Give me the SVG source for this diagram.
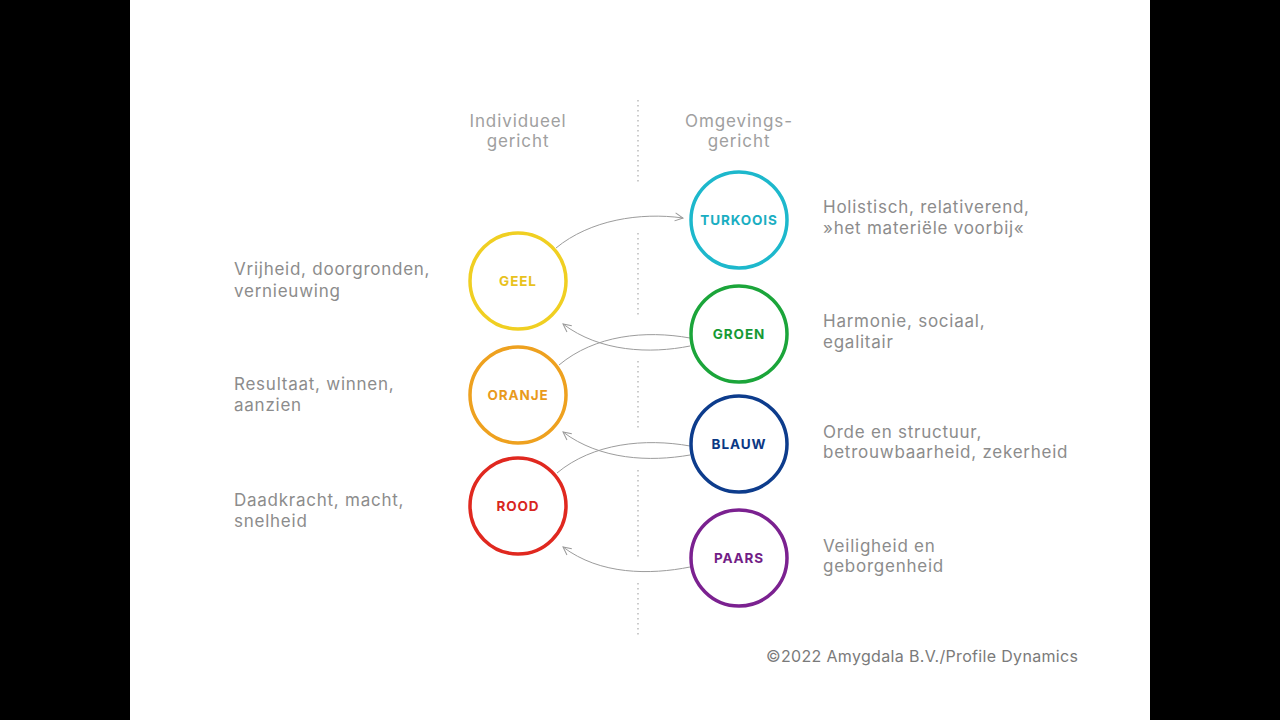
<svg xmlns="http://www.w3.org/2000/svg" width="1280" height="720" viewBox="0 0 1280 720">
<defs>
<marker id="ah" viewBox="0 0 10 10" refX="9" refY="5" markerWidth="10" markerHeight="10" markerUnits="userSpaceOnUse" orient="auto">
<path d="M1,1 L9,5 L1,9" fill="none" stroke="#999" stroke-width="1"/>
</marker>
<style>
.desc{font-family:Inter,"Open Sans","Liberation Sans",sans-serif;font-size:17px;fill:#8c8c8c;letter-spacing:0.75px}
.head{font-family:Inter,"Open Sans","Liberation Sans",sans-serif;font-size:17px;fill:#a0a0a0;text-anchor:middle;letter-spacing:0.9px}
.lbl{font-family:Inter,"Open Sans","Liberation Sans",sans-serif;font-size:13.5px;font-weight:700;text-anchor:middle;letter-spacing:0.9px}
.ring{fill:#fff;stroke-width:3.5}
.con{fill:none;stroke:#9c9c9c;stroke-width:1}
.dot{stroke:#aaa;stroke-width:1.2;stroke-dasharray:1.5 3.5}
</style>
</defs>
<rect x="0" y="0" width="1280" height="720" fill="#fff"/>
<rect x="0" y="0" width="130" height="720" fill="#000"/>
<rect x="1150" y="0" width="130" height="720" fill="#000"/>

<g id="divider">
<line class="dot" x1="638" y1="100" x2="638" y2="185"/>
<line class="dot" x1="638" y1="233" x2="638" y2="318"/>
<line class="dot" x1="638" y1="361" x2="638" y2="428"/>
<line class="dot" x1="638" y1="470" x2="638" y2="558"/>
<line class="dot" x1="638" y1="583" x2="638" y2="635"/>
</g>

<g id="headers">
<text class="head" x="518" y="127">Individueel</text>
<text class="head" x="518" y="147">gericht</text>
<text class="head" x="739" y="127">Omgevings-</text>
<text class="head" x="739" y="147">gericht</text>
</g>

<g id="connectors">
<path class="con" d="M556,248 C590,220 640,212 683,218" marker-end="url(#ah)"/>
<path class="con" d="M690,346 C650,354 600,352 563,324" marker-end="url(#ah)"/>
<path class="con" d="M559,365 C595,335 645,330 690,338"/>
<path class="con" d="M690,455 C650,462 600,460 563,432" marker-end="url(#ah)"/>
<path class="con" d="M557,473 C593,443 645,438 690,446"/>
<path class="con" d="M690,567 C650,575 600,575 563,547" marker-end="url(#ah)"/>
</g>

<g id="geel"><circle class="ring" cx="518" cy="281" r="48" stroke="#f0cf22"/><text class="lbl" x="518" y="286" fill="#e8c21e">GEEL</text></g>
<g id="oranje"><circle class="ring" cx="518" cy="395" r="48" stroke="#eea11f"/><text class="lbl" x="518" y="400" fill="#e99a1c">ORANJE</text></g>
<g id="rood"><circle class="ring" cx="518" cy="506" r="48" stroke="#e0281f"/><text class="lbl" x="518" y="511" fill="#d8261e">ROOD</text></g>
<g id="turkoois"><circle class="ring" cx="739" cy="220" r="48" stroke="#1db8cc"/><text class="lbl" x="739" y="225" fill="#1aaec2">TURKOOIS</text></g>
<g id="groen"><circle class="ring" cx="739" cy="334" r="48" stroke="#1ba53a"/><text class="lbl" x="739" y="339" fill="#169a35">GROEN</text></g>
<g id="blauw"><circle class="ring" cx="739" cy="444" r="48" stroke="#0d3c8c"/><text class="lbl" x="739" y="449" fill="#0b3884">BLAUW</text></g>
<g id="paars"><circle class="ring" cx="739" cy="558" r="48" stroke="#7b2190"/><text class="lbl" x="739" y="563" fill="#721d86">PAARS</text></g>

<g id="descriptions">
<text class="desc" x="234" y="275">Vrijheid, doorgronden,</text>
<text class="desc" x="234" y="297">vernieuwing</text>
<text class="desc" x="234" y="390">Resultaat, winnen,</text>
<text class="desc" x="234" y="411">aanzien</text>
<text class="desc" x="234" y="506">Daadkracht, macht,</text>
<text class="desc" x="234" y="527">snelheid</text>
<text class="desc" x="823" y="213">Holistisch, relativerend,</text>
<text class="desc" x="823" y="234">»het materiële voorbij«</text>
<text class="desc" x="823" y="327">Harmonie, sociaal,</text>
<text class="desc" x="823" y="348">egalitair</text>
<text class="desc" x="823" y="438">Orde en structuur,</text>
<text class="desc" x="823" y="458">betrouwbaarheid, zekerheid</text>
<text class="desc" x="823" y="552">Veiligheid en</text>
<text class="desc" x="823" y="572">geborgenheid</text>
</g>

<g id="copyright">
<text x="766" y="662" style="font-family:Inter,'Open Sans','Liberation Sans',sans-serif;font-size:16px;fill:#7a7a7a;letter-spacing:0.33px">©2022 Amygdala B.V./Profile Dynamics</text>
</g>
</svg>
